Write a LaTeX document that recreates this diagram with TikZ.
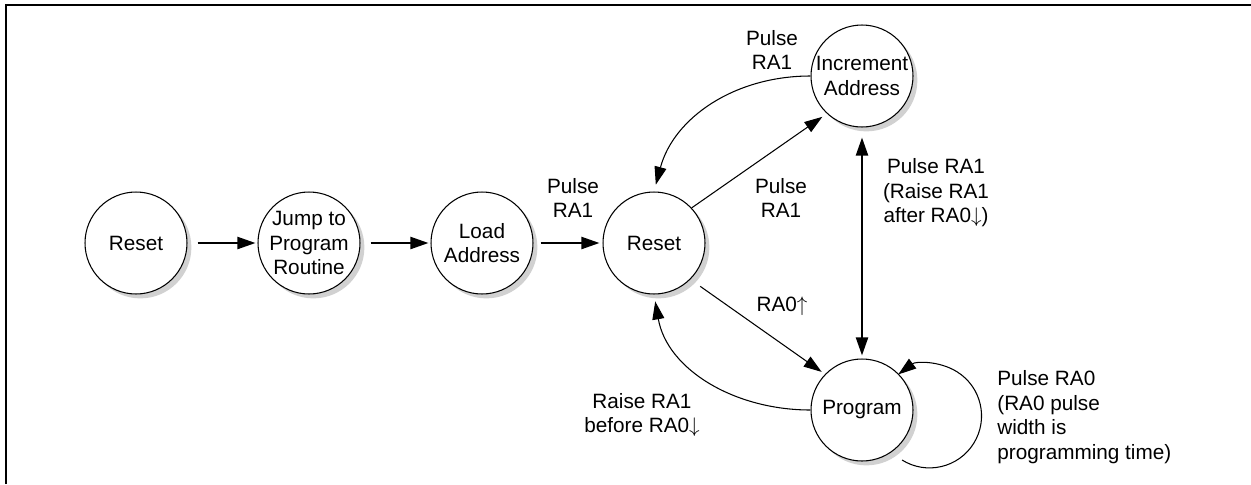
\documentclass[tikz,border=0pt]{standalone}
\usepackage{fontspec}
\setmainfont{Liberation Sans}
\usetikzlibrary{arrows.meta,shadows}
\tikzset{
  state/.style={circle, draw, line width=0.6pt, minimum size=2.04cm, inner sep=-0.1cm, align=center, fill=white,
    drop shadow={shadow xshift=2.5pt, shadow yshift=-2.5pt, fill=black!18, opacity=1}},
  flow/.style={line width=1.2pt, -{Triangle[length=0.36cm,width=0.24cm]}},
  trans/.style={line width=0.6pt, -{Triangle[length=0.36cm,width=0.24cm]}},
  lbl/.style={align=center, inner sep=0pt},
}
\newcommand{\sigup}{$\uparrow$}
\newcommand{\sigdn}{$\downarrow$}
\begin{document}
\begin{tikzpicture}[x=0.02cm, y=0.02cm, font=\fontsize{11.8}{13.9}\selectfont]
\useasboundingbox (0,0) rectangle (1251,-484);
\draw[line width=1.1pt] (6,-484) -- (6,-5) -- (1251,-5);
% states
\node[state] (rst1) at (136,-243) {Reset};
\node[state] (jump) at (309,-243) {Jump to\\Program\\Routine};
\node[state] (load) at (482,-243) {Load\\Address};
\node[state] (rst2) at (654,-243) {Reset};
\node[state] (inc) at (862,-76) {Increment\\Address};
\node[state] (prog) at (862,-410) {Program};
% entry chain
\draw[flow, shorten <=0.2cm, shorten >=0.04cm] (rst1) -- (jump);
\draw[flow, shorten <=0.2cm, shorten >=0.04cm] (jump) -- (load);
\draw[flow, shorten <=0.14cm, shorten >=0.06cm] (load) -- (rst2);
\node[lbl] (pls1) at (573,-198) {Pulse\\RA1};
% reset / increment loop
\draw[trans, shorten >=0.11cm] (rst2.43) -- (inc.227);
\node[lbl] (pls2) at (781,-198) {Pulse\\RA1};
\draw[trans, shorten >=0.14cm] (inc.west) to[out=180, in=75] (rst2.north);
\node[lbl] (pls3) at (772,-50) {Pulse\\RA1};
\draw[flow, {Triangle[length=0.36cm,width=0.24cm]}-{Triangle[length=0.36cm,width=0.24cm]}, shorten <=0.2cm, shorten >=0.06cm] (inc.south) -- (prog.north);
\node[lbl] (pls4) at (936,-193) {Pulse RA1\\(Raise RA1\\after RA0\sigdn)};
% reset / program loop
\draw[trans, shorten <=0.24cm, shorten >=0.08cm] (rst2.-45) -- (prog.136);
\node[lbl] (up0) at (782,-306) {RA0\sigup};
\draw[trans, shorten >=0.14cm] (prog.west) to[out=180, in=-80] (rst2.south);
\node[lbl] (rse1) at (642,-415) {Raise RA1\\before RA0\sigdn};
\draw[trans] ([shift={(40,-50)}]prog.center) arc[start angle=238, end angle=487, radius=1.04cm];
\node[lbl, align=left, anchor=west] (pls0) at (997,-417) {Pulse RA0\\(RA0 pulse\\width is\\programming time)};
\end{tikzpicture}
\end{document}
